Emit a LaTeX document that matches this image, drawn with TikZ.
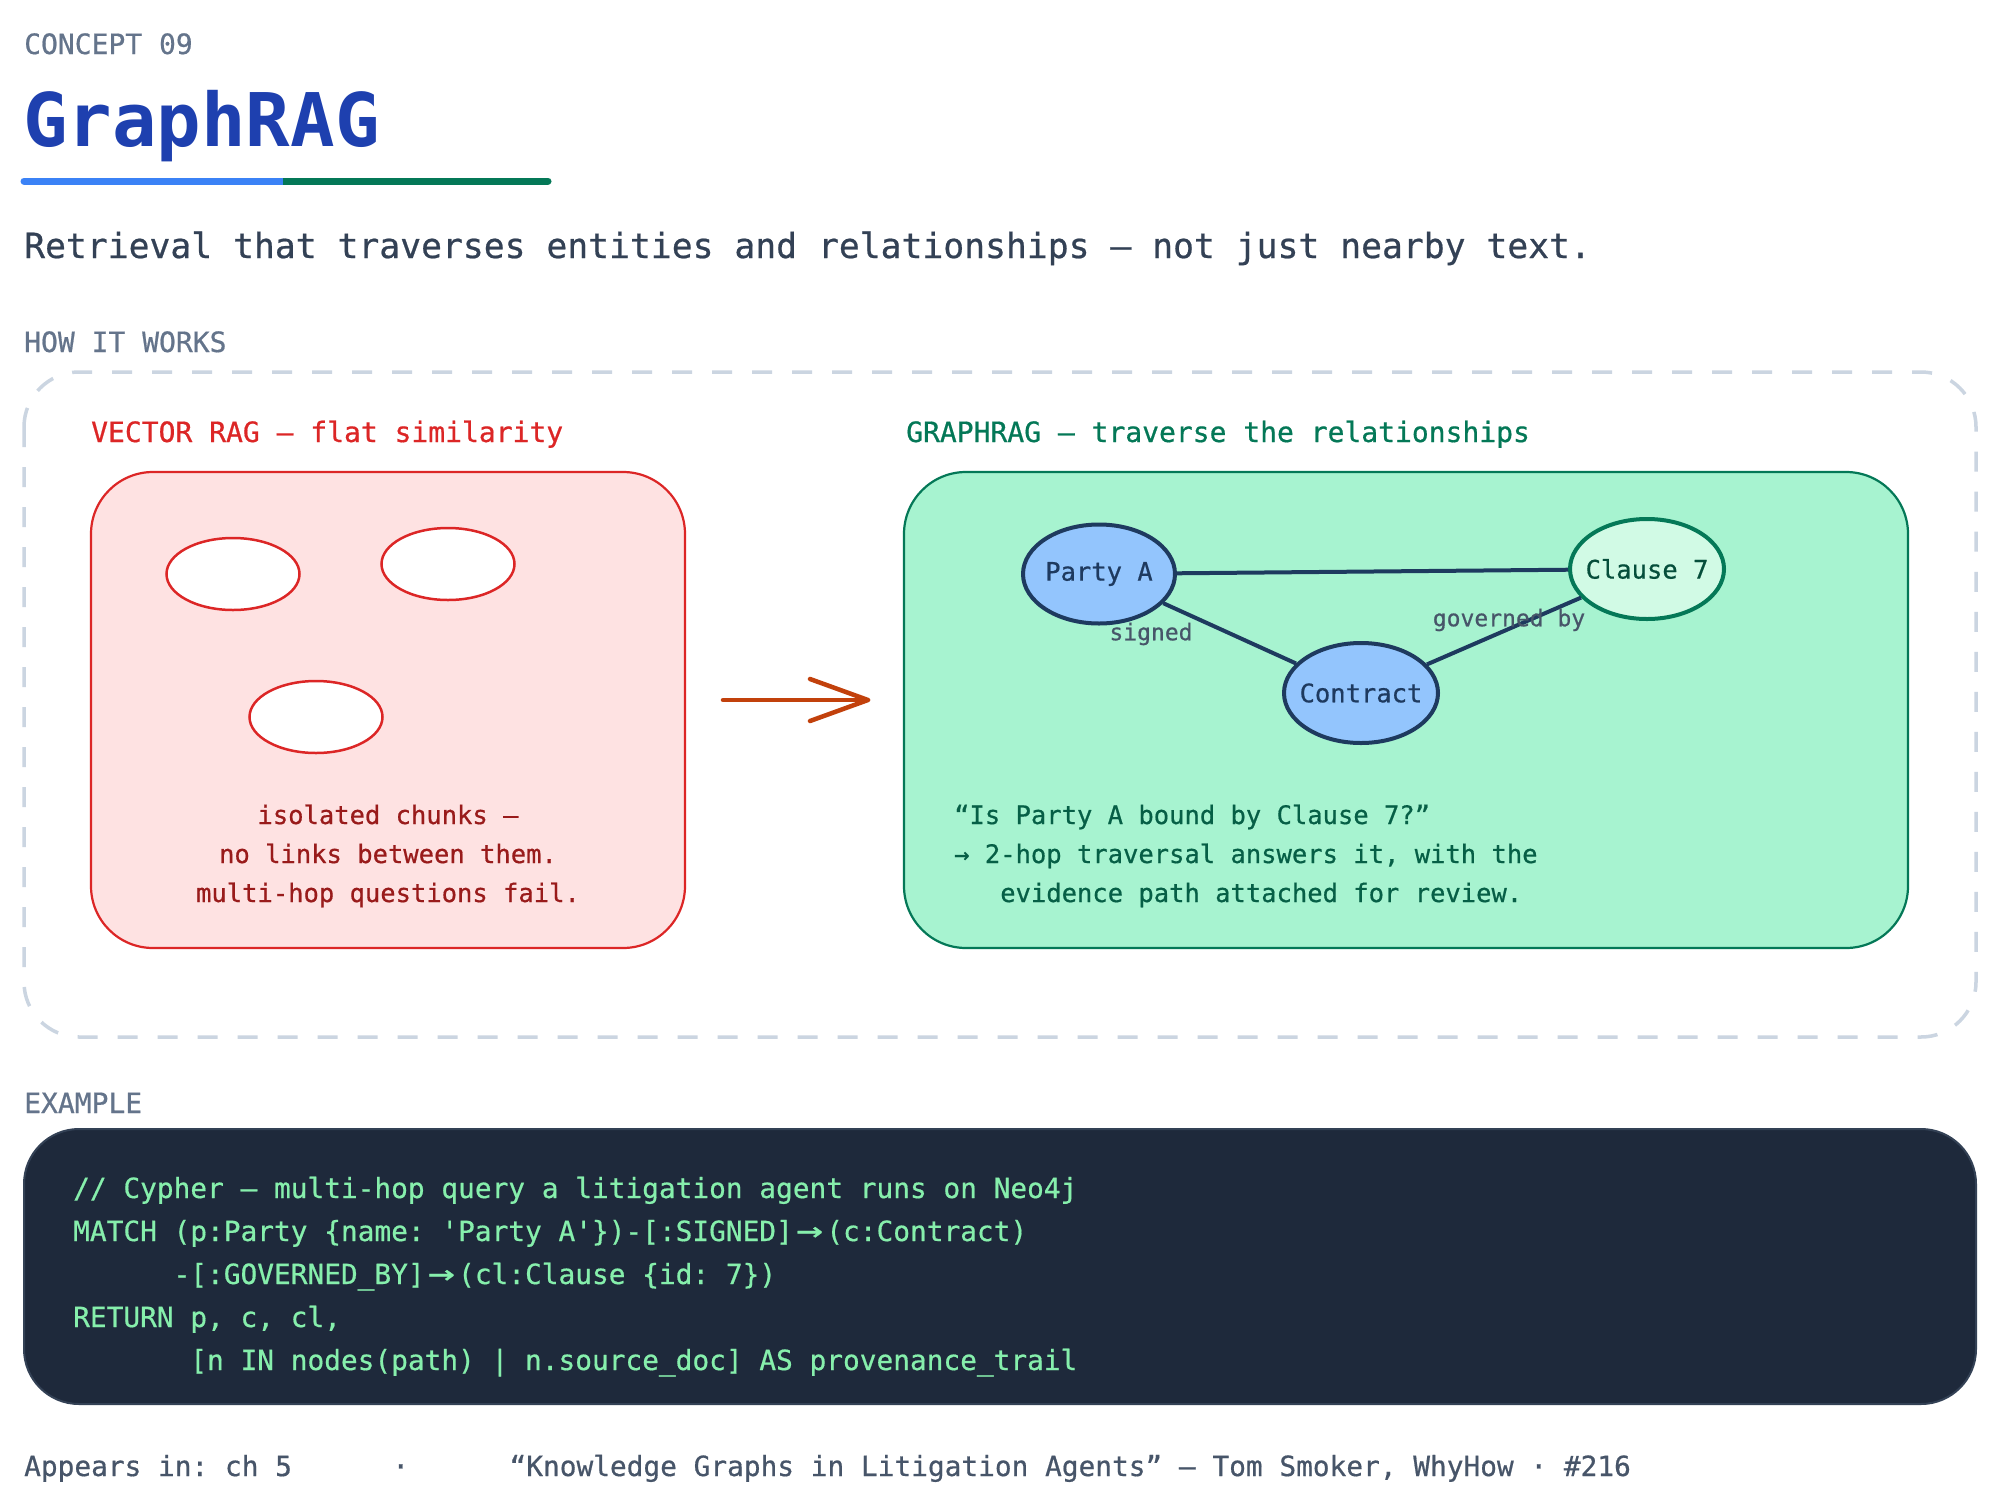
\documentclass[tikz,border=0pt]{standalone}
\usepackage{fontspec}
\usepackage{graphicx}
\setmainfont{DejaVu Sans Mono}[FakeBold=0.6]
\setmonofont{DejaVu Sans Mono}[FakeBold=0.6]
\usetikzlibrary{shapes.geometric,calc}
\definecolor{slate}{HTML}{64748B}
\definecolor{subt}{HTML}{334155}
\definecolor{titleblue}{HTML}{1E40AF}
\definecolor{barblue}{HTML}{3B82F6}
\definecolor{gr}{HTML}{047857}
\definecolor{rd}{HTML}{DC2626}
\definecolor{rdfill}{HTML}{FEE2E2}
\definecolor{rdtext}{HTML}{991B1B}
\definecolor{grfill}{HTML}{A7F3D0}
\definecolor{grtext}{HTML}{065F46}
\definecolor{nodeblue}{HTML}{93C5FD}
\definecolor{navy}{HTML}{1E3A5F}
\definecolor{clausefill}{HTML}{D1FAE5}
\definecolor{clausetext}{HTML}{064E3B}
\definecolor{edgelbl}{HTML}{475569}
\definecolor{arrowc}{HTML}{C2410C}
\definecolor{codebg}{HTML}{1E293B}
\definecolor{codeborder}{HTML}{334155}
\definecolor{codetext}{HTML}{86EFAC}
\definecolor{dashc}{HTML}{CBD5E1}
\newfontfamily\titlefont{DejaVu Sans Mono Bold}
\newcommand\fsz[1]{\ttfamily\fontsize{#1}{#1}\selectfont}
\newcommand\arrtwo{\makebox[1.204em]{\scalebox{1.6}[1.15]{→}}}
\begin{document}
\begin{tikzpicture}[x=1pt,y=-1pt,
  txt/.style={anchor=base west,inner sep=0pt},
  ctxt/.style={anchor=base,inner sep=0pt},
  chunk/.style={ellipse,draw=rd,line width=2.5pt,fill=white,minimum width=133pt,minimum height=72pt,inner sep=0pt},
  entity/.style={ellipse,draw=navy,line width=4pt,fill=nodeblue,minimum width=152pt,minimum height=99pt,inner sep=0pt},
  entlbl/.style={inner sep=0pt,text=navy,font=\fsz{25.5}},
  clausenode/.style={ellipse,draw=gr,line width=4pt,fill=clausefill,minimum width=154pt,minimum height=100pt,inner sep=0pt},
  clauselbl/.style={inner sep=0pt,text=clausetext,font=\fsz{25.5}},
  rel/.style={draw=navy,line width=4pt},
  edgelabel/.style={inner sep=0pt,text=edgelbl,font=\fsz{23}},
  panel/.style={rounded corners=62pt,line width=2.2pt}
]
\useasboundingbox[fill=white] (0,0) rectangle (2000,1510);

% header
\node[txt,text=slate,font=\fsz{28}] (concept) at (24,54) {CONCEPT 09};
\node[txt,text=titleblue,font=\titlefont\fontsize{74}{74}\selectfont] (title) at (23,146) {GraphRAG};
\coordinate (barA) at (24,181);
\coordinate (barB) at (283,181);
\coordinate (barC) at (548,181);
\draw[barblue,line width=7pt,line cap=round] (barA) -- (barB);
\draw[gr,line width=7pt,line cap=round] (barB) -- (barC);
\draw[barblue,line width=7pt] (barA) -- (barB);
\node[txt,text=subt,font=\fsz{34.7}] (subtitle) at (24,258) {Retrieval that traverses entities and relationships — not just nearby text.};

% how it works
\node[txt,text=slate,font=\fsz{28}] (how) at (24,352) {HOW IT WORKS};
\draw[dashc,line width=3.5pt,dash pattern=on 20pt off 20pt,rounded corners=55pt] (24,372) rectangle (1976,1037);

% vector rag panel
\node[txt,text=rd,font=\fsz{28}] (vlabel) at (91,442) {VECTOR RAG — flat similarity};
\draw[panel,draw=rd,fill=rdfill] (91,472) rectangle (685,948);
\node[chunk] (c1) at (233,574) {};
\node[chunk] (c2) at (448,564) {};
\node[chunk] (c3) at (316,717) {};
\node[ctxt,text=rdtext,font=\fsz{25.5}] (r1) at (388,824) {isolated chunks —};
\node[ctxt,text=rdtext,font=\fsz{25.5}] (r2) at (388,863) {no links between them.};
\node[ctxt,text=rdtext,font=\fsz{25.5}] (r3) at (388,902) {multi-hop questions fail.};

% arrow
\coordinate (arrS) at (723,700);
\coordinate (arrE) at (868,700);
\draw[arrowc,line width=4.5pt,line cap=round,line join=round] (arrS) -- (arrE);
\draw[arrowc,line width=4.5pt,line cap=round,line join=round] ($(arrE)+(-58,-21)$) -- (arrE) -- ($(arrE)+(-58,21)$);

% graphrag panel
\node[txt,text=gr,font=\fsz{28}] (glabel) at (906,442) {GRAPHRAG — traverse the relationships};
\draw[panel,draw=gr,fill=grfill] (904,472) rectangle (1908,948);
\node[entity] (pa) at (1099,574) {};
\node[entity,minimum width=154pt,minimum height=100pt] (ct) at (1361,693) {};
\node[clausenode] (cl) at (1647,569) {};
\draw[rel] (pa) -- (cl);
\draw[rel] (pa) -- (ct);
\draw[rel] (ct) -- (cl);
\node[entlbl] (paL) at (pa.center) {Party A};
\node[entlbl] (ctL) at (ct.center) {Contract};
\node[clauselbl] (clL) at (cl.center) {Clause 7};
\node[edgelabel] (lsigned) at (1151,634) {signed};
\node[edgelabel] (lgov) at (1509,620) {governed by};
\node[txt,text=grtext,font=\fsz{25.5}] (g1) at (954,824) {“Is Party A bound by Clause 7?”};
\node[txt,text=grtext,font=\fsz{25.5}] (g2) at (954,863) {→ 2-hop traversal answers it, with the};
\node[txt,text=grtext,font=\fsz{25.5}] (g3) at (954,902) {~~~evidence path attached for review.};

% example
\node[txt,text=slate,font=\fsz{28}] (ex) at (24,1113) {EXAMPLE};
\draw[fill=codebg,draw=codeborder,line width=2pt,rounded corners=55pt] (24,1129) rectangle (1976,1404);
\node[txt,text=codetext,font=\fsz{27.8}] (k1) at (73,1198) {// Cypher — multi-hop query a litigation agent runs on Neo4j};
\node[txt,text=codetext,font=\fsz{27.8}] (k2) at (73,1241) {MATCH (p:Party \{name: 'Party A'\})-[:SIGNED]\arrtwo(c:Contract)};
\node[txt,text=codetext,font=\fsz{27.8}] (k3) at (73,1284) {~~~~~~-[:GOVERNED\_BY]\arrtwo(cl:Clause \{id: 7\})};
\node[txt,text=codetext,font=\fsz{27.8}] (k4) at (73,1327) {RETURN p, c, cl,};
\node[txt,text=codetext,font=\fsz{27.8}] (k5) at (73,1370) {~~~~~~~[n IN nodes(path) | n.source\_doc] AS provenance\_trail};

% footer
\node[txt,text=edgelbl,font=\fsz{27.8}] (foot) at (24,1476) {Appears in: ch 5~~~~~~·~~~~~~“Knowledge Graphs in Litigation Agents” — Tom Smoker, WhyHow · \#216};
\end{tikzpicture}
\end{document}
